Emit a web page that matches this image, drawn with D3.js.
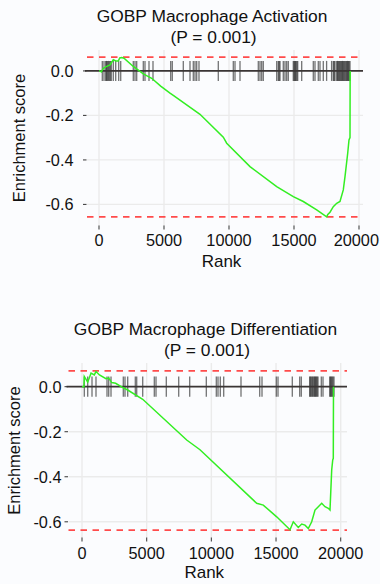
<!DOCTYPE html>
<html>
<head>
<meta charset="utf-8">
<script src="https://cdn.jsdelivr.net/npm/d3@7"></script>
<style>
  html, body { margin: 0; padding: 0; background: #fbfcfe; }
  svg { display: block; font-family: "Liberation Sans", Arial, sans-serif; }
</style>
</head>
<body>
<svg id="chart" width="380" height="584"></svg>
<script>
// ---- data ----
const xTicks = [0, 5000, 10000, 15000, 20000];
const yTicks = [0, -0.2, -0.4, -0.6];

const title1 = "GOBP Macrophage Activation";
const pval1 = "(P = 0.001)";
const curveRank1 = [0, 77, 177, 330, 515, 846, 1100, 1300, 1485, 1600, 1746, 1923, 2638, 3408, 4054, 4746, 5462, 5715, 7769, 9562, 9823, 11615, 13669, 14946, 15715, 16746, 17515, 17600, 17769, 18023, 18285, 18538, 18792, 18923, 19131, 19231, 19308, 19320];
const curveES1 = [0, 0, -0.004, 0.012, 0.018, 0.027, 0.05, 0.045, 0.045, 0.058, 0.06, 0.057, 0.02, -0.013, -0.033, -0.068, -0.1, -0.11, -0.195, -0.298, -0.325, -0.43, -0.52, -0.565, -0.587, -0.625, -0.656, -0.645, -0.635, -0.61, -0.595, -0.587, -0.535, -0.475, -0.37, -0.31, -0.3, 0];
const hits1 = [254, 385, 515, 580, 638, 720, 792, 870, 946, 1100, 1285, 1515, 1670, 2638, 2770, 2900, 3408, 3538, 3846, 4154, 5515, 5638, 6485, 7000, 7254, 7385, 7515, 7692, 9177, 10331, 10462, 10846, 12254, 12385, 12515, 12638, 13669, 13792, 13860, 13923, 14177, 14308, 14438, 14562, 14946, 15023, 15080, 15131, 15208, 15285, 15592, 16485, 16615, 16869, 17000, 17254, 17508, 17892, 18023, 18090, 18154, 18285, 18350, 18408, 18480, 18538, 18600, 18669, 18730, 18792, 18860, 18923, 18990, 19054, 19120, 19177, 19240, 19308];
const esMax1 = 0.062;
const esMin1 = -0.656;

const title2 = "GOBP Macrophage Differentiation";
const pval2 = "(P = 0.001)";
const curveRank2 = [0, 150, 178, 441, 700, 950, 1082, 1350, 1850, 2064, 2300, 2600, 3193, 3533, 4693, 8094, 9122, 13506, 14016, 15052, 16081, 16336, 16722, 16985, 17240, 17495, 17758, 18013, 18268, 18531, 18786, 19041, 19173, 19227, 19304, 19382, 19428, 19443];
const curveES2 = [0, 0, 0.045, 0.02, 0.06, 0.052, 0.067, 0.052, 0.035, 0.038, 0.018, 0.015, -0.005, -0.015, -0.056, -0.237, -0.28, -0.518, -0.526, -0.578, -0.635, -0.6, -0.625, -0.61, -0.615, -0.63, -0.6, -0.548, -0.533, -0.518, -0.533, -0.54, -0.548, -0.474, -0.37, -0.326, -0.318, 0];
const hits2 = [178, 441, 773, 1082, 1933, 2064, 2242, 3193, 3324, 3533, 4121, 4229, 4693, 5590, 5721, 6517, 7476, 8326, 9610, 10383, 10514, 10692, 10955, 12292, 13738, 13916, 15021, 15153, 16258, 16830, 16954, 17603, 17650, 17727, 17800, 17859, 17930, 17990, 18050, 18114, 18180, 18245, 18500, 18632, 19150, 19210, 19273, 19340, 19405, 19482];
const esMax2 = 0.07;
const esMin2 = -0.637;

// ---- layout ----
const panels = [
  { title: title1, pval: pval1, ranks: curveRank1, es: curveES1, hits: hits1, esMax: esMax1, esMin: esMin1,
    left: 87, right: 363, top: 50, bottom: 226, xDom: [-923, 20308], yDom: [-0.697, 0.094],
    titleX: 212, titleY1: 22, titleY2: 43, yLabRight: 73.5, yTitleX: 25, xLabY: 246, xTitleY: 266.5 },
  { title: title2, pval: pval2, ranks: curveRank2, es: curveES2, hits: hits2, esMax: esMax2, esMin: esMin2,
    left: 68.5, right: 347, top: 363, bottom: 538, xDom: [-1044, 20487], yDom: [-0.672, 0.105],
    titleX: 205.5, titleY1: 335, titleY2: 355.5, yLabRight: 61.5, yTitleX: 20, xLabY: 559, xTitleY: 577.5 }
];

const svg = d3.select("#chart");

panels.forEach(p => {
  const x = d3.scaleLinear().domain(p.xDom).range([p.left, p.right]);
  const y = d3.scaleLinear().domain(p.yDom).range([p.bottom, p.top]);
  const g = svg.append("g");

  // grid
  g.selectAll(".vg").data(xTicks).join("line")
    .attr("x1", d => x(d)).attr("x2", d => x(d))
    .attr("y1", p.top).attr("y2", p.bottom)
    .attr("stroke", "#ebebeb").attr("stroke-width", 1.4);
  g.selectAll(".hg").data(yTicks).join("line")
    .attr("x1", p.left).attr("x2", p.right)
    .attr("y1", d => y(d)).attr("y2", d => y(d))
    .attr("stroke", "#ebebeb").attr("stroke-width", 1.4);

  // axis ticks
  g.selectAll(".yt").data(yTicks).join("line")
    .attr("x1", p.left - 4).attr("x2", p.left - 0.5)
    .attr("y1", d => y(d)).attr("y2", d => y(d))
    .attr("stroke", "#444").attr("stroke-width", 1.1);
  g.selectAll(".xt").data(xTicks).join("line")
    .attr("x1", d => x(d)).attr("x2", d => x(d))
    .attr("y1", p.bottom - 0.5).attr("y2", p.bottom + 3.5)
    .attr("stroke", "#444").attr("stroke-width", 1.1);

  // tick labels
  g.selectAll(".yl").data(yTicks).join("text")
    .attr("x", p.yLabRight).attr("y", d => y(d)).attr("dy", "0.36em")
    .attr("text-anchor", "end").attr("font-size", 16.3).attr("fill", "#111")
    .text(d => d3.format(".1f")(d).replace("−", "-"));
  g.selectAll(".xl").data(xTicks).join("text")
    .attr("x", d => Math.min(x(d), 379 - 22.7)).attr("y", p.xLabY)
    .attr("text-anchor", "middle").attr("font-size", 16.3).attr("fill", "#111")
    .text(d => String(d));

  // axis titles
  g.append("text").attr("x", (p.left + p.right) / 2 - 3.5).attr("y", p.xTitleY)
    .attr("text-anchor", "middle").attr("font-size", 17).attr("fill", "#111").text("Rank");
  g.append("text")
    .attr("transform", `translate(${p.yTitleX},${(p.top + p.bottom) / 2}) rotate(-90)`)
    .attr("text-anchor", "middle").attr("font-size", 16.5).attr("fill", "#111").text("Enrichment score");

  // titles
  g.append("text").attr("x", p.titleX).attr("y", p.titleY1)
    .attr("text-anchor", "middle").attr("font-size", 17.4).attr("fill", "#111").text(p.title);
  g.append("text").attr("x", p.titleX + 1.5).attr("y", p.titleY2)
    .attr("text-anchor", "middle").attr("font-size", 17.4).attr("fill", "#111").text(p.pval);

  // red dashed lines at max/min ES
  g.selectAll(".es").data([p.esMax, p.esMin]).join("line")
    .attr("x1", p.left).attr("x2", p.right)
    .attr("y1", d => y(d)).attr("y2", d => y(d))
    .attr("stroke", "#ff4b4b").attr("stroke-width", 1.9)
    .attr("stroke-dasharray", "6.5,5.5");

  // hit ticks
  g.selectAll(".hit").data(p.hits).join("line")
    .attr("x1", d => x(d)).attr("x2", d => x(d))
    .attr("y1", y(0.045)).attr("y2", y(-0.045))
    .attr("stroke", "#000").attr("stroke-opacity", 0.55).attr("stroke-width", 1.3);

  // zero line
  g.append("line").attr("x1", p.left - 2).attr("x2", p.right)
    .attr("y1", y(0)).attr("y2", y(0))
    .attr("stroke", "#3a3535").attr("stroke-width", 1.7);

  // running enrichment score
  const pts = p.ranks.map((r, i) => [r, p.es[i]]);
  g.append("path").datum(pts)
    .attr("d", d3.line().x(d => x(d[0])).y(d => y(d[1])))
    .attr("fill", "none").attr("stroke", "#33ee22").attr("stroke-width", 1.5);
});
</script>
</body>
</html>
